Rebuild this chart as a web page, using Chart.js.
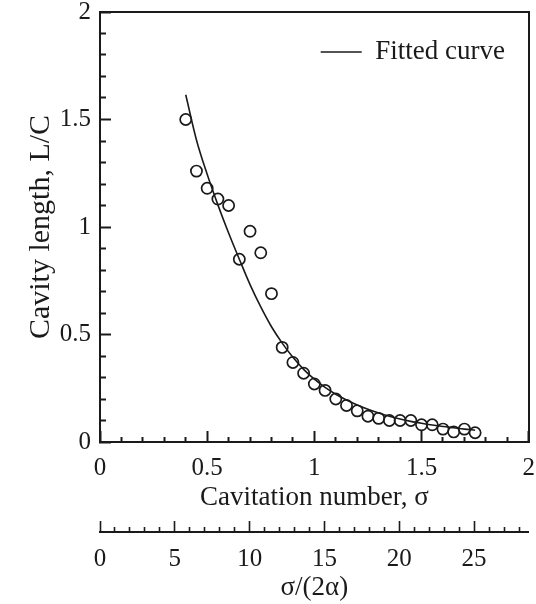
<!DOCTYPE html>
<html>
<head>
<meta charset="utf-8">
<script src="https://cdn.jsdelivr.net/npm/chart.js@4.4.1/dist/chart.umd.min.js"></script>
<style>
  html, body { margin: 0; padding: 0; background: #ffffff; }
  #wrap { width: 536px; height: 604px; }
</style>
</head>
<body>
<div id="wrap"><canvas id="c" width="536" height="604"></canvas></div>
<script>
// ---- data ----
const sigmaExp  = [0.40, 0.45, 0.50, 0.55, 0.60, 0.65, 0.70, 0.75, 0.80, 0.85, 0.90, 0.95, 1.00, 1.05,
                   1.10, 1.15, 1.20, 1.25, 1.30, 1.35, 1.40, 1.45, 1.50, 1.55, 1.60, 1.65, 1.70, 1.75];
const lengthExp = [1.50, 1.26, 1.18, 1.13, 1.10, 0.85, 0.98, 0.88, 0.69, 0.44, 0.37, 0.32, 0.27, 0.24,
                   0.20, 0.17, 0.145, 0.12, 0.11, 0.10, 0.10, 0.10, 0.08, 0.08, 0.06, 0.047, 0.06, 0.043];

const sigmaFit  = [0.40, 0.45, 0.50, 0.55, 0.60, 0.65, 0.70, 0.75, 0.80, 0.85, 0.90, 0.95, 1.00, 1.05,
                   1.10, 1.15, 1.20, 1.25, 1.30, 1.35, 1.40, 1.45, 1.50, 1.55, 1.60, 1.65, 1.70, 1.75];
const lengthFit = [1.615, 1.405, 1.245, 1.103, 0.972, 0.850, 0.732, 0.628, 0.536, 0.460, 0.394, 0.338, 0.292, 0.254,
                   0.222, 0.195, 0.172, 0.152, 0.135, 0.120, 0.107, 0.096, 0.087, 0.079, 0.072, 0.066, 0.060, 0.055];

const seriesNames = ['Experiment', 'Fitted curve'];
const axisTitles = { x: 'Cavitation number, \u03c3', x2: '\u03c3/(2\u03b1)', y: 'Cavity length, L/C' };
const xRange = [0, 2];
const yRange = [0, 2];
const alphaDeg = [2];          // angle of attack used for the secondary axis sigma/(2 alpha)
const majorStepX = [0.5];
const majorStepY = [0.5];
const majorStepX2 = [5];

// ---- styling ----
const FONT = "'Liberation Serif', 'Times New Roman', Times, serif";
const INK = '#1a1a1a';
const x2Max = xRange[1] / (2 * alphaDeg[0] * Math.PI / 180);

const isMajor = (v, step) => Math.abs(v / step - Math.round(v / step)) < 1e-6;
const fmt = v => String(Math.round(v * 100) / 100);
const noPad = s => { s.paddingTop = 0; s.paddingBottom = 0; s.paddingLeft = 0; s.paddingRight = 0; };

const legendPlacer = {
  id: 'legendPlacer',
  afterLayout(chart) {
    const lg = chart.legend, ca = chart.chartArea;
    if (!lg || !ca) return;
    lg.left = ca.right - 218;
    lg.right = ca.right;
    lg.top = ca.top + 16.5;
    lg.bottom = lg.top + 60;
  }
};

new Chart(document.getElementById('c'), {
  type: 'scatter',
  data: {
    datasets: [
      {
        label: seriesNames[1],
        data: sigmaFit.map((s, i) => ({ x: s, y: lengthFit[i] })),
        showLine: true,
        borderColor: INK,
        backgroundColor: INK,
        borderWidth: 1.6,
        pointRadius: 0,
        pointStyle: 'line',
        cubicInterpolationMode: 'monotone',
        order: 2
      },
      {
        label: seriesNames[0],
        data: sigmaExp.map((s, i) => ({ x: s, y: lengthExp[i] })),
        showLine: false,
        pointStyle: 'circle',
        pointRadius: 5.6,
        pointBorderWidth: 1.7,
        borderColor: INK,
        backgroundColor: 'rgba(255,255,255,0)',
        order: 1
      }
    ]
  },
  options: {
    responsive: false,
    animation: false,
    events: [],
    devicePixelRatio: 1,
    layout: { padding: { top: 12, right: 6, bottom: 0, left: 0 } },
    plugins: {
      tooltip: { enabled: false },
      legend: {
        position: 'chartArea',
        align: 'start',
        labels: {
          filter: item => item.text === seriesNames[1],
          usePointStyle: true,
          pointStyle: 'line',
          pointStyleWidth: 41,
          textAlign: 'left',
          padding: 10,
          color: INK,
          font: { family: FONT, size: 27, lineHeight: 1 }
        }
      }
    },
    scales: {
      x: {
        type: 'linear', position: 'bottom', weight: 0,
        min: xRange[0], max: xRange[1],
        ticks: {
          stepSize: 0.1, maxTicksLimit: 1000, autoSkip: false, maxRotation: 0, minRotation: 0,
          padding: 25, color: INK, font: { family: FONT, size: 25, lineHeight: 1 },
          callback: v => isMajor(v, majorStepX[0]) ? fmt(v) : ''
        },
        grid: {
          drawOnChartArea: false, tickLength: -11, tickWidth: 2, tickColor: INK,
          tickBorderDash: c => (c.tick && !isMajor(c.tick.value, majorStepX[0])) ? [6, 100] : []
        },
        border: { display: true, color: INK, width: 2 },
        title: { display: true, text: axisTitles.x, color: INK,
                 font: { family: FONT, size: 27, lineHeight: 1 }, padding: { top: 0, bottom: 21 } },
        afterFit: s => { s.height = 90; noPad(s); }
      },
      x2: {
        type: 'linear', position: 'bottom', weight: 1,
        min: 0, max: x2Max,
        ticks: {
          stepSize: 1, includeBounds: false, maxTicksLimit: 1000, autoSkip: false, maxRotation: 0, minRotation: 0,
          padding: 26, color: INK, font: { family: FONT, size: 25, lineHeight: 1 },
          callback: v => isMajor(v, majorStepX2[0]) ? fmt(v) : ''
        },
        grid: {
          drawOnChartArea: false, tickLength: -11, tickWidth: 1.6, tickColor: INK,
          tickBorderDash: c => (c.tick && !isMajor(c.tick.value, majorStepX2[0])) ? [6, 100] : []
        },
        border: { display: true, color: INK, width: 2 },
        title: { display: true, text: axisTitles.x2, color: INK,
                 font: { family: FONT, size: 27, lineHeight: 1 }, padding: { top: 0, bottom: 3 } },
        afterFit: s => { s.height = 72; noPad(s); }
      },
      xTop: {
        type: 'linear', position: 'top', min: xRange[0], max: xRange[1],
        ticks: { display: false },
        grid: { drawOnChartArea: false, drawTicks: false },
        border: { display: true, color: INK, width: 2 },
        afterFit: s => { s.height = 0; noPad(s); }
      },
      y: {
        type: 'linear', position: 'left',
        min: yRange[0], max: yRange[1],
        ticks: {
          stepSize: 0.1, maxTicksLimit: 1000, autoSkip: false,
          padding: 20, color: INK, font: { family: FONT, size: 25, lineHeight: 1 },
          callback: v => isMajor(v, majorStepY[0]) ? fmt(v) : ''
        },
        grid: {
          drawOnChartArea: false, tickLength: -11, tickWidth: 2, tickColor: INK,
          tickBorderDash: c => (c.tick && !isMajor(c.tick.value, majorStepY[0])) ? [0, 5, 7, 100] : []
        },
        border: { display: true, color: INK, width: 2 },
        title: { display: true, text: axisTitles.y, color: INK,
                 font: { family: FONT, size: 30, lineHeight: 1 }, padding: { top: 26, bottom: 0 } },
        afterFit: s => { s.width = 100; noPad(s); }
      },
      yRight: {
        type: 'linear', position: 'right', min: yRange[0], max: yRange[1],
        ticks: { display: false },
        grid: { drawOnChartArea: false, drawTicks: false },
        border: { display: true, color: INK, width: 2 },
        afterFit: s => { s.width = 0; noPad(s); }
      }
    }
  },
  plugins: [legendPlacer]
});
</script>
</body>
</html>
